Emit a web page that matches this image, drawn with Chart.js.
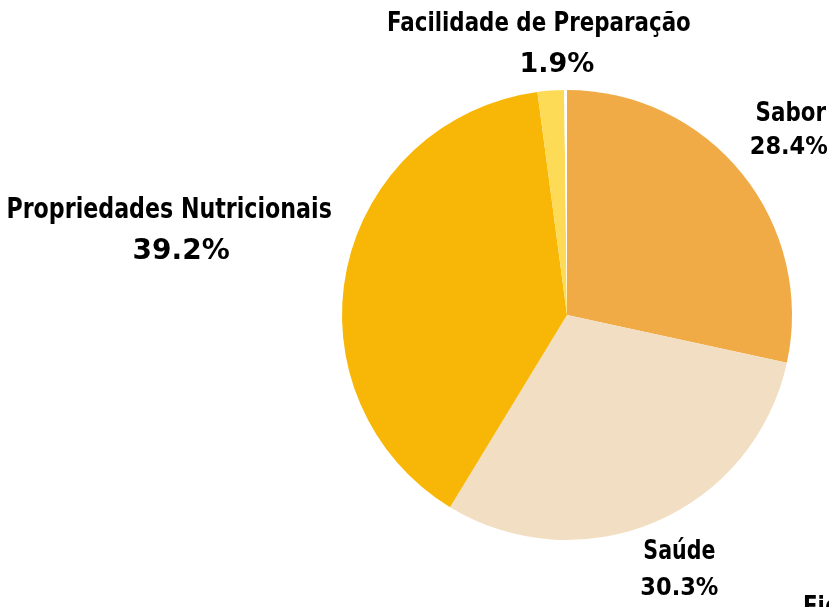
<!DOCTYPE html>
<html>
<head>
<meta charset="utf-8">
<script src="https://cdn.jsdelivr.net/npm/chart.js@4.4.1/dist/chart.umd.min.js"></script>
<style>
  html, body { margin: 0; padding: 0; background: #ffffff; }
  canvas { display: block; }
</style>
</head>
<body>
<canvas id="pieChart" width="829" height="607"></canvas>
<script>
// categories and values (percent), clockwise from 12 o'clock
const categories = ['Sabor', 'Saúde', 'Propriedades Nutricionais', 'Facilidade de Preparação', ''];
const shares = [28.4, 30.3, 39.2, 1.9, 0.2];
const sliceColors = ['#F0AB47', '#F2DFC3', '#F8B706', '#FEDB57', '#FFFFFF'];

// label look per slice: name font, percent font, small nudge of the label box
const nameFonts = [
    'bold 27px "DejaVu Sans Condensed", sans-serif',
    'bold 26px "DejaVu Sans Condensed", sans-serif',
    'bold 28px "DejaVu Sans Condensed", sans-serif',
    'bold 27px "DejaVu Sans Condensed", sans-serif'
];
const pctFonts = [
    'bold 25px "DejaVu Sans Condensed", sans-serif',
    'bold 25px "DejaVu Sans Condensed", sans-serif',
    'bold 28px "DejaVu Sans", sans-serif',
    'bold 27px "DejaVu Sans", sans-serif'
];
const nudges = [[-2, -11], [-2, 2], [7, -27], [1, 5]];
const pctShift = [-2, 0, 12, 18];
const lineGaps = [34, 36, 41, 41];
const squeeze = 0.88;

function squeezedText(ctx, text, x, y, sx) {
    ctx.save();
    ctx.translate(x, y);
    ctx.scale(sx, 1);
    ctx.fillText(text, 0, 0);
    ctx.restore();
}

// draws "name / xx.x%" outside each slice
const outsideLabels = {
    id: 'outsideLabels',
    afterDraw(chart) {
        const ctx = chart.ctx;
        const arcs = chart.getDatasetMeta(0).data;
        ctx.save();
        ctx.fillStyle = '#000000';
        ctx.textAlign = 'center';
        ctx.textBaseline = 'middle';
        arcs.forEach(function (arc, i) {
            if (!categories[i]) return;
            const mid = (arc.startAngle + arc.endAngle) / 2;
            const dx = Math.cos(mid);
            const dy = Math.sin(mid);
            const line1 = categories[i];
            const line2 = shares[i].toFixed(1) + '%';
            ctx.font = nameFonts[i];
            const w1 = ctx.measureText(line1).width * squeeze;
            ctx.font = pctFonts[i];
            const w2 = ctx.measureText(line2).width;
            const w = Math.max(w1, w2);
            const dist = arc.outerRadius + 26;
            const cx = arc.x + dx * dist + dx * w / 2 + nudges[i][0];
            const cy = arc.y + dy * dist + dy * 25 + nudges[i][1];
            ctx.font = nameFonts[i];
            squeezedText(ctx, line1, cx, cy - lineGaps[i] / 2, squeeze);
            ctx.font = pctFonts[i];
            ctx.fillText(line2, cx + pctShift[i], cy + lineGaps[i] / 2);
        });
        // caption cut off by the bottom edge
        ctx.textAlign = 'left';
        ctx.textBaseline = 'alphabetic';
        ctx.font = nameFonts[0];
        squeezedText(ctx, 'Figura', 803, 615, squeeze);
        ctx.restore();
    }
};

new Chart(document.getElementById('pieChart').getContext('2d'), {
    type: 'pie',
    data: {
        labels: categories,
        datasets: [{
            data: shares,
            backgroundColor: sliceColors,
            borderWidth: 0
        }]
    },
    options: {
        responsive: false,
        animation: false,
        layout: {
            padding: { left: 342, right: 37, top: 90, bottom: 67 }
        },
        plugins: {
            legend: { display: false },
            tooltip: { enabled: false }
        }
    },
    plugins: [outsideLabels]
});
</script>
</body>
</html>
